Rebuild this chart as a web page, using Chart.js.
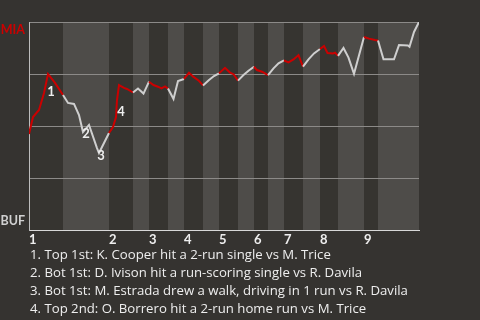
<!DOCTYPE html>
<html>
<head>
<meta charset="utf-8">
<script src="https://cdn.jsdelivr.net/npm/chart.js@4/dist/chart.umd.min.js"></script>
<style>
  html, body { margin: 0; padding: 0; background: #353330; }
  #wrap { position: relative; width: 480px; height: 320px; overflow: hidden; }
  canvas { position: absolute; left: 0; top: 0; }
  .note { position: absolute; left: 30px; color: #eeeeee; font-family: "Open Sans", sans-serif; font-size: 13.2px; line-height: 18px; white-space: nowrap; }
</style>
</head>
<body>
<div id="wrap">
  <canvas id="c" width="480" height="320"></canvas>
  <div id="notes"></div>
</div>
<script>
// ---- data ----
const teamTop = "MIA";
const teamBottom = "BUF";
// game progress (plays) of each point
const playX = [0, 0.8, 2.0, 3.0, 3.8, 5.2, 6.8,
  7.8, 9.0, 10.0, 10.8, 12.0, 13.6, 14.0, 16.0,
  16.8, 17.4, 17.6, 18.0, 19.0, 19.6, 20.8,
  21.8, 22.9, 24.0,
  24.9, 25.8, 26.5, 27.2, 27.8,
  28.9, 29.8, 31.0,
  32.0, 32.9, 33.9, 34.8,
  36.0, 37.0, 38.0,
  39.2, 40.2, 40.9, 41.8,
  42.9, 43.9, 45.0,
  45.6, 46.6, 47.8,
  48.9, 49.9, 51.0,
  51.9, 52.9, 53.9, 54.8,
  55.9, 57.0, 58.2,
  59.0, 59.7, 60.8, 61.2, 61.8,
  62.9, 63.9, 65.0, 66.4, 67.0,
  68.0, 69.2, 69.8,
  70.9, 73.0, 74.0, 75.8, 76.1, 77.0, 78.0];
// MIA win probability (%) after each play
const miaWinPct = [46.2, 54.3, 57.7, 65.9, 75.0, 70.7, 64.9,
  61.1, 60.6, 55.3, 47.1, 50.5, 39.4, 37.0, 46.6,
  49.5, 54.3, 62.5, 69.7, 68.3, 67.8, 66.1,
  68.0, 65.6, 71.3,
  69.7, 68.9, 68.1, 69.0, 68.0,
  63.0, 71.6, 72.6,
  75.6, 73.6, 71.9, 69.5,
  72.1, 74.0, 75.3,
  78.0, 75.7, 74.9, 71.8,
  74.5, 76.6, 78.5,
  76.9, 76.1, 74.5,
  77.7, 80.1, 81.5,
  80.6, 82.0, 84.1, 78.5,
  82.0, 84.9, 87.0,
  88.5, 85.1, 84.9, 85.3, 83.7,
  87.5, 82.9, 75.1, 87.5, 92.8,
  92.0, 91.3, 91.1,
  82.1, 82.1, 88.9, 88.7, 88.1, 95.2, 100];
// start of each half inning (top, bottom, top, ...) and game end
const halfStarts = [0, 6.8, 16, 20.8, 24, 27.8, 31, 34.8, 38, 41.8, 45, 47.8, 51, 54.8, 58.2, 61.8, 67, 69.8];
const gameEnd = 78;
const inningLabels = ["1", "2", "3", "4", "5", "6", "7", "8", "9"];
const yTicks = [0, 25, 50, 75, 100];
// key events: number, label position (progress, pct)
const eventNums = ["1", "2", "3", "4"];
const eventX = [4.4, 11.4, 14.4, 18.4];
const eventY = [66.3, 46.2, 35.6, 56.7];
const eventTexts = [
  "1. Top 1st: K. Cooper hit a 2-run single vs M. Trice",
  "2. Bot 1st: D. Ivison hit a run-scoring single vs R. Davila",
  "3. Bot 1st: M. Estrada drew a walk, driving in 1 run vs R. Davila",
  "4. Top 2nd: O. Borrero hit a 2-run home run vs M. Trice"
];

// ---- styles ----
const RED = "#cc0000";
const WHITE = "#cfcfcf";
const DARK = "#363430";
const LIGHT = "#4e4c49";
const FONT = "Lato, sans-serif";

const inningStarts = halfStarts.filter((v, i) => i % 2 === 0);

function halfIndex(x) {
  let idx = 0;
  for (let i = 0; i < halfStarts.length; i++) if (x >= halfStarts[i] - 1e-9) idx = i;
  return idx;
}

const bandsPlugin = {
  id: "bands",
  beforeDraw(chart) {
    const { ctx, chartArea: a, scales: { x } } = chart;
    ctx.save();
    for (let i = 0; i < halfStarts.length; i++) {
      const x0 = x.getPixelForValue(halfStarts[i]);
      const x1 = x.getPixelForValue(i + 1 < halfStarts.length ? halfStarts[i + 1] : gameEnd);
      ctx.fillStyle = i % 2 === 0 ? DARK : LIGHT;
      ctx.fillRect(x0, a.top, x1 - x0, a.bottom - a.top);
    }
    ctx.restore();
  },
  afterDraw(chart) {
    const { ctx, chartArea: a, scales: { x, y } } = chart;
    ctx.save();
    ctx.font = "bold 13px " + FONT;
    ctx.textBaseline = "middle";
    ctx.fillStyle = "#eeeeee";
    ctx.textAlign = "center";
    for (let i = 0; i < eventNums.length; i++) {
      ctx.fillText(eventNums[i], x.getPixelForValue(eventX[i]), y.getPixelForValue(eventY[i]));
    }
    ctx.textAlign = "right";
    ctx.font = "bold 12.5px " + FONT;
    ctx.fillStyle = RED;
    ctx.fillText(teamTop, a.left - 4, y.getPixelForValue(100) + 7.5);
    ctx.fillStyle = "#d0d0d0";
    ctx.fillText(teamBottom, a.left - 4, y.getPixelForValue(0) - 9);
    ctx.restore();
  }
};

new Chart(document.getElementById("c"), {
  type: "line",
  data: {
    datasets: [{
      data: playX.map((v, i) => ({ x: v, y: miaWinPct[i] })),
      borderWidth: 2,
      pointRadius: 0,
      tension: 0,
      borderColor: RED,
      segment: {
        borderColor: ctx => (halfIndex(ctx.p0.parsed.x) % 2 === 0 ? RED : WHITE)
      }
    }]
  },
  options: {
    responsive: false,
    animation: false,
    events: [],
    layout: { padding: { top: 22, right: 61, left: 0, bottom: 0 } },
    plugins: { legend: { display: false }, tooltip: { enabled: false } },
    scales: {
      x: {
        type: "linear",
        min: 0,
        max: gameEnd,
        afterFit: s => { s.height = 90; },
        afterBuildTicks: s => { s.ticks = inningStarts.map(v => ({ value: v })); },
        grid: { display: false, drawTicks: false },
        border: { display: true, color: "#d8d8d8", width: 1 },
        ticks: {
          align: "start",
          padding: 2,
          color: "#eeeeee",
          font: { family: FONT, size: 13, weight: "bold" },
          autoSkip: false,
          maxRotation: 0,
          callback: (v, i) => inningLabels[i]
        }
      },
      y: {
        min: 0,
        max: 100,
        afterFit: s => { s.width = 29; },
        afterBuildTicks: s => { s.ticks = yTicks.map(v => ({ value: v })); },
        grid: { color: "#8c8a88", lineWidth: 1, drawTicks: false },
        border: { display: true, color: "#bdbdbd", width: 1 },
        ticks: { display: false }
      }
    }
  },
  plugins: [bandsPlugin]
});

const notes = document.getElementById("notes");
eventTexts.forEach((t, i) => {
  const d = document.createElement("div");
  d.className = "note";
  d.style.top = (245 + i * 18) + "px";
  d.textContent = t;
  notes.appendChild(d);
});
</script>
</body>
</html>
